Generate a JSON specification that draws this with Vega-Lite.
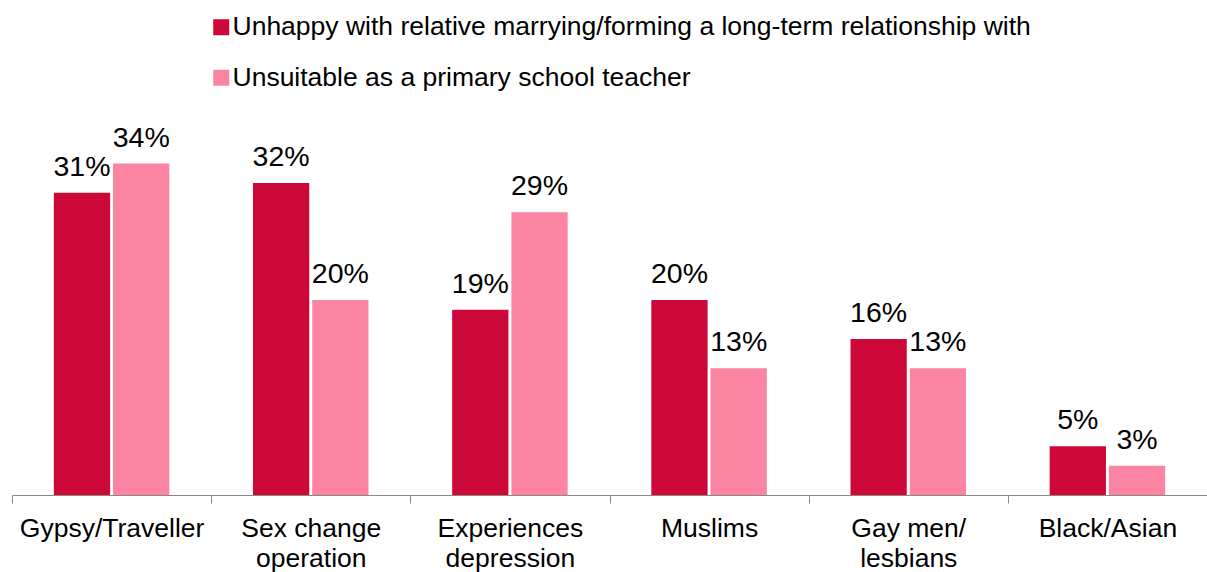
{
  "$schema": "https://vega.github.io/schema/vega-lite/v6.json",
  "width": 1195,
  "height": 390,
  "autosize": {"type": "none"},
  "padding": {"left": 12, "top": 105, "right": 0, "bottom": 77},
  "background": "white",
  "config": {"view": {"stroke": null}, "font": "Liberation Sans"},
  "data": {
    "values": [
      {"category": "Gypsy/Traveller", "series": "Unhappy with relative marrying/forming a long-term relationship with", "value": 0.31},
      {"category": "Gypsy/Traveller", "series": "Unsuitable as a primary school teacher", "value": 0.34},
      {"category": "Sex change operation", "series": "Unhappy with relative marrying/forming a long-term relationship with", "value": 0.32},
      {"category": "Sex change operation", "series": "Unsuitable as a primary school teacher", "value": 0.20},
      {"category": "Experiences depression", "series": "Unhappy with relative marrying/forming a long-term relationship with", "value": 0.19},
      {"category": "Experiences depression", "series": "Unsuitable as a primary school teacher", "value": 0.29},
      {"category": "Muslims", "series": "Unhappy with relative marrying/forming a long-term relationship with", "value": 0.20},
      {"category": "Muslims", "series": "Unsuitable as a primary school teacher", "value": 0.13},
      {"category": "Gay men/ lesbians", "series": "Unhappy with relative marrying/forming a long-term relationship with", "value": 0.16},
      {"category": "Gay men/ lesbians", "series": "Unsuitable as a primary school teacher", "value": 0.13},
      {"category": "Black/Asian", "series": "Unhappy with relative marrying/forming a long-term relationship with", "value": 0.05},
      {"category": "Black/Asian", "series": "Unsuitable as a primary school teacher", "value": 0.03}
    ]
  },
  "encoding": {
    "x": {
      "field": "category",
      "type": "nominal",
      "sort": null,
      "scale": {"paddingInner": 0, "paddingOuter": 0},
      "axis": {
        "title": null,
        "labelAngle": 0,
        "labelFontSize": 26.5,
        "labelColor": "black",
        "labelFont": "Liberation Sans",
        "labelBaseline": "top",
        "labelPadding": 12,
        "labelLineHeight": 30,
        "labelLimit": 0,
        "tickBand": "extent",
        "tickSize": 8,
        "tickColor": "#888888",
        "domainColor": "#888888",
        "labelExpr": "datum.value == 'Sex change operation' ? ['Sex change', 'operation'] : datum.value == 'Experiences depression' ? ['Experiences', 'depression'] : datum.value == 'Gay men/ lesbians' ? ['Gay men/', 'lesbians'] : datum.value"
      }
    },
    "xOffset": {
      "field": "series",
      "type": "nominal",
      "sort": null,
      "scale": {"paddingInner": 0.05, "paddingOuter": 0.706}
    },
    "y": {
      "field": "value",
      "type": "quantitative",
      "scale": {"domain": [0, 0.4], "nice": false},
      "axis": null
    }
  },
  "layer": [
    {
      "mark": {"type": "bar"},
      "encoding": {
        "color": {
          "field": "series",
          "type": "nominal",
          "sort": null,
          "scale": {
            "domain": ["Unhappy with relative marrying/forming a long-term relationship with", "Unsuitable as a primary school teacher"],
            "range": ["#CC0839", "#FC84A3"]
          },
          "legend": {
            "title": null,
            "orient": "none",
            "legendX": 196,
            "legendY": -91,
            "direction": "vertical",
            "symbolType": "square",
            "symbolSize": 256,
            "symbolStrokeWidth": 0,
            "labelFontSize": 26.5,
            "labelColor": "black",
            "labelFont": "Liberation Sans",
            "labelLimit": 0,
            "labelOffset": -2,
            "rowPadding": 23.5,
            "padding": 0
          }
        }
      }
    },
    {
      "mark": {"type": "text", "baseline": "alphabetic", "dy": -17, "fontSize": 28.5, "color": "black", "font": "Liberation Sans"},
      "encoding": {
        "text": {"field": "value", "type": "quantitative", "format": ".0%"}
      }
    }
  ]
}
